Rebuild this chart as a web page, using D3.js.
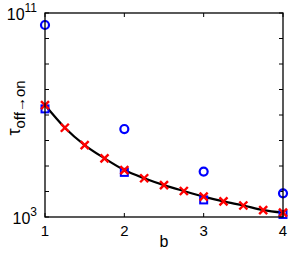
<!DOCTYPE html>
<html>
<head>
<meta charset="utf-8">
<script src="https://cdn.jsdelivr.net/npm/d3@7"></script>
<style>
  body { margin: 0; background: #fff; }
  text { font-family: "Liberation Sans", Arial, sans-serif; fill: #000; }
</style>
</head>
<body>
<div id="container"></div>
<script>
// values (y is log10 of tau)
var bCircles = [1, 2, 3, 4];
var logCircles = [10.53, 6.45, 4.78, 3.93];

var bSquares = [1, 2, 3, 4];
var logSquares = [7.24, 4.75, 3.67, 3.1];

var bCrosses = [1, 1.25, 1.5, 1.75, 2, 2.25, 2.5, 2.75, 3, 3.25, 3.5, 3.75, 4];
var logCrosses = [7.39, 6.5, 5.82, 5.3, 4.84, 4.52, 4.25, 4.02, 3.8, 3.61, 3.45, 3.27, 3.17];

var xTicks = [1, 2, 3, 4];
var yTicks = [3, 4, 5, 6, 7, 8, 9, 10, 11];
var yLabelled = [3, 11];

// Basic parameters
// (don't call it "top", that's window.top)
var WIDTH = 298,
    HEIGHT = 255,
    boxL = 45, boxT = 13, boxR = 283, boxB = 217;

var svg = d3.select('#container')
    .append('svg')
    .attr('width', WIDTH)
    .attr('height', HEIGHT);

var x = d3.scaleLinear().domain([1, 4]).range([boxL, boxR]);
var y = d3.scaleLinear().domain([3, 11]).range([boxB, boxT]);

// ticks, pointing inward on all four sides
var tl = 4;
svg.selectAll('.xt').data(xTicks).enter().append('path')
    .attr('d', function(d) {
        return 'M' + x(d) + ',' + boxB + 'v' + (-tl) + 'M' + x(d) + ',' + boxT + 'v' + tl;
    })
    .attr('stroke', '#000').attr('stroke-width', 1);
svg.selectAll('.yt').data(yTicks).enter().append('path')
    .attr('d', function(d) {
        return 'M' + boxL + ',' + y(d) + 'h' + tl + 'M' + boxR + ',' + y(d) + 'h' + (-tl);
    })
    .attr('stroke', '#000').attr('stroke-width', 1);

// fit line through the crosses
var line = d3.line()
    .x(function(d, i) { return x(bCrosses[i]); })
    .y(function(d) { return y(d); })
    .curve(d3.curveMonotoneX);

svg.append('path')
    .datum(logCrosses)
    .attr('d', line)
    .attr('fill', 'none')
    .attr('stroke', '#000')
    .attr('stroke-width', 2.2);

// blue squares
var sq = 7;
svg.selectAll('.sq').data(logSquares).enter().append('rect')
    .attr('x', function(d, i) { return x(bSquares[i]) - sq / 2; })
    .attr('y', function(d) { return y(d) - sq / 2; })
    .attr('width', sq).attr('height', sq)
    .attr('fill', 'none').attr('stroke', '#0000ff').attr('stroke-width', 2);

// blue circles
svg.selectAll('.ci').data(logCircles).enter().append('circle')
    .attr('cx', function(d, i) { return x(bCircles[i]); })
    .attr('cy', function(d) { return y(d); })
    .attr('r', 4)
    .attr('fill', 'none').attr('stroke', '#0000ff').attr('stroke-width', 2.2);

// red crosses
var cs = 4;
svg.selectAll('.cr').data(logCrosses).enter().append('path')
    .attr('d', function(d, i) {
        var cx = x(bCrosses[i]), cy = y(d);
        return 'M' + (cx - cs) + ',' + (cy - cs) + 'L' + (cx + cs) + ',' + (cy + cs) +
               'M' + (cx - cs) + ',' + (cy + cs) + 'L' + (cx + cs) + ',' + (cy - cs);
    })
    .attr('stroke', '#ff0000').attr('stroke-width', 2.4);

// box
svg.append('rect')
    .attr('x', boxL).attr('y', boxT)
    .attr('width', boxR - boxL).attr('height', boxB - boxT)
    .attr('fill', 'none').attr('stroke', '#000').attr('stroke-width', 1.3);

// tick labels
svg.selectAll('.xl').data(xTicks).enter().append('text')
    .attr('x', function(d) { return x(d); })
    .attr('y', boxB + 19)
    .attr('text-anchor', 'middle')
    .style('font-size', '15px')
    .text(function(d) { return d; });

var yl = svg.selectAll('.yl').data(yLabelled).enter().append('text')
    .attr('x', boxL - 8)
    .attr('y', function(d) { return y(d) + 7; })
    .attr('text-anchor', 'end')
    .style('font-size', '16px');
yl.append('tspan').text('10');
yl.append('tspan').attr('dy', -8).style('font-size', '12px')
    .text(function(d) { return d; });

// axis titles
svg.append('text')
    .attr('x', (boxL + boxR) / 2)
    .attr('y', 247)
    .attr('text-anchor', 'middle')
    .style('font-size', '16px')
    .text('b');

var yt = svg.append('text')
    .attr('transform', 'translate(20,108) rotate(-90)')
    .attr('text-anchor', 'middle')
    .style('font-size', '18px');
yt.append('tspan').text('τ');
yt.append('tspan').attr('dy', 5).style('font-size', '15px').text('off→on');
</script>
</body>
</html>
